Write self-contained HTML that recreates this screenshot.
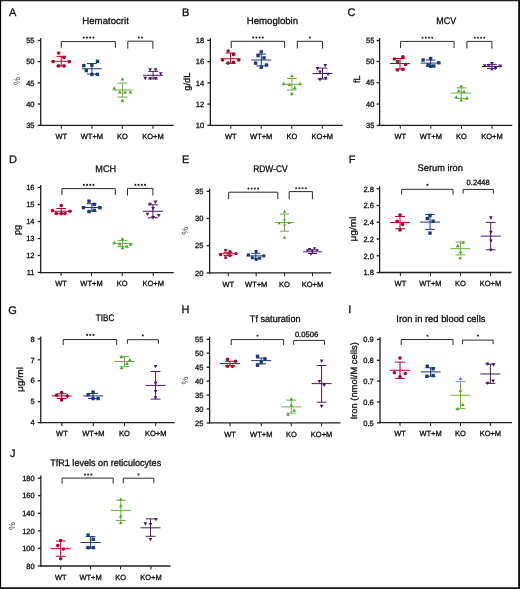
<!DOCTYPE html>
<html><head><meta charset="utf-8"><style>
html,body{margin:0;padding:0;background:#fff;}
body{width:520px;height:589px;overflow:hidden;}
svg{display:block;will-change:transform;}
text{text-rendering:geometricPrecision;stroke:#111;stroke-width:0.32px;paint-order:stroke;font-family:"Liberation Sans", sans-serif;}
</style></head><body>
<svg width="520" height="589" viewBox="0 0 520 589">
<rect x="0" y="0" width="520" height="589" fill="#fff"/>
<g><text x="8.9" y="16" font-size="11" text-anchor="start" fill="#111111">A</text><text x="105.6" y="24" font-size="9.6" text-anchor="middle" fill="#111111" textLength="46.6" lengthAdjust="spacingAndGlyphs">Hematocrit</text><line x1="40.7" y1="38" x2="40.7" y2="126.05" stroke="#1e1e1e" stroke-width="1.3"/><line x1="37.7" y1="40.5" x2="40.7" y2="40.5" stroke="#1e1e1e" stroke-width="1.3"/><text x="34.5" y="43.2" font-size="7.5" text-anchor="end" fill="#111111">55</text><line x1="37.7" y1="61.6" x2="40.7" y2="61.6" stroke="#1e1e1e" stroke-width="1.3"/><text x="34.5" y="64.3" font-size="7.5" text-anchor="end" fill="#111111">50</text><line x1="37.7" y1="82.8" x2="40.7" y2="82.8" stroke="#1e1e1e" stroke-width="1.3"/><text x="34.5" y="85.5" font-size="7.5" text-anchor="end" fill="#111111">45</text><line x1="37.7" y1="104" x2="40.7" y2="104" stroke="#1e1e1e" stroke-width="1.3"/><text x="34.5" y="106.7" font-size="7.5" text-anchor="end" fill="#111111">40</text><line x1="37.7" y1="125.3" x2="40.7" y2="125.3" stroke="#1e1e1e" stroke-width="1.3"/><text x="34.5" y="128" font-size="7.5" text-anchor="end" fill="#111111">35</text><line x1="40.05" y1="125.4" x2="173.7" y2="125.4" stroke="#1e1e1e" stroke-width="1.3"/><line x1="61.3" y1="125.4" x2="61.3" y2="128.8" stroke="#1e1e1e" stroke-width="1.04"/><text x="61.3" y="139.1" font-size="7.5" text-anchor="middle" fill="#111111">WT</text><line x1="91.9" y1="125.4" x2="91.9" y2="128.8" stroke="#1e1e1e" stroke-width="1.04"/><text x="91.9" y="139.1" font-size="7.5" text-anchor="middle" fill="#111111">WT+M</text><line x1="122.4" y1="125.4" x2="122.4" y2="128.8" stroke="#1e1e1e" stroke-width="1.04"/><text x="122.4" y="139.1" font-size="7.5" text-anchor="middle" fill="#111111">KO</text><line x1="153" y1="125.4" x2="153" y2="128.8" stroke="#1e1e1e" stroke-width="1.04"/><text x="153" y="139.1" font-size="7.5" text-anchor="middle" fill="#111111">KO+M</text><text transform="translate(19.6,81.1) rotate(-90)" font-size="9" text-anchor="middle" fill="#111111" style="stroke:none" fill-opacity="0.85">%</text><path d="M61.3 47.8V41.6H115.4V47.8" fill="none" stroke="#2a2a2a" stroke-width="1"/><circle cx="83.8" cy="37.6" r="1.05" fill="#2a2a2a"/><circle cx="87" cy="37.6" r="1.05" fill="#2a2a2a"/><circle cx="90.2" cy="37.6" r="1.05" fill="#2a2a2a"/><circle cx="93.4" cy="37.6" r="1.05" fill="#2a2a2a"/><path d="M127.8 48.6V41.2H152.9V48.6" fill="none" stroke="#2a2a2a" stroke-width="1"/><circle cx="138.8" cy="37.6" r="1.05" fill="#2a2a2a"/><circle cx="142" cy="37.6" r="1.05" fill="#2a2a2a"/><circle cx="58.7" cy="53" r="1.8" fill="#a8002c"/><circle cx="64" cy="57.6" r="1.8" fill="#a8002c"/><circle cx="53.2" cy="61.6" r="1.8" fill="#a8002c"/><circle cx="69.3" cy="61.8" r="1.8" fill="#a8002c"/><circle cx="58.5" cy="65.9" r="1.8" fill="#a8002c"/><circle cx="64" cy="65.9" r="1.8" fill="#a8002c"/><path d="M51.2 61.25H71.2M56.3 56.3H66.1M56.3 66.1H66.1M61.2 56.3V66.1" fill="none" stroke="#a8002c" stroke-width="1"/><rect x="95.8" y="59.6" width="3.4" height="3.4" fill="#1c3a78"/><rect x="82.1" y="63.9" width="3.4" height="3.4" fill="#1c3a78"/><rect x="90.2" y="63.3" width="3.4" height="3.4" fill="#1c3a78"/><rect x="84.6" y="68.9" width="3.4" height="3.4" fill="#1c3a78"/><rect x="90.2" y="72.7" width="3.4" height="3.4" fill="#1c3a78"/><rect x="95.6" y="72.7" width="3.4" height="3.4" fill="#1c3a78"/><path d="M81.9 68.75H101.9M87 63.5H96.8M87 74.1H96.8M91.9 63.5V74.1" fill="none" stroke="#1c3a78" stroke-width="1"/><polygon points="120.6,80.55 124.4,80.55 122.5,77.25" fill="#4f9d2a"/><polygon points="112.5,89.45 116.3,89.45 114.4,86.15" fill="#4f9d2a"/><polygon points="117.9,93.55 121.7,93.55 119.8,90.25" fill="#4f9d2a"/><polygon points="123.1,93.55 126.9,93.55 125,90.25" fill="#4f9d2a"/><polygon points="128.5,93.55 132.3,93.55 130.4,90.25" fill="#4f9d2a"/><polygon points="120.6,101.95 124.4,101.95 122.5,98.65" fill="#4f9d2a"/><path d="M112.5 90H132.5M117.6 83.1H127.4M117.6 97.1H127.4M122.5 83.1V97.1" fill="none" stroke="#68ae45" stroke-width="1"/><polygon points="148.2,68.25 152,68.25 150.1,71.55" fill="#4a1966"/><polygon points="153.7,68.25 157.5,68.25 155.6,71.55" fill="#4a1966"/><polygon points="158.8,72.15 162.6,72.15 160.7,75.45" fill="#4a1966"/><polygon points="143.3,76.85 147.1,76.85 145.2,80.15" fill="#4a1966"/><polygon points="148.4,77.05 152.2,77.05 150.3,80.35" fill="#4a1966"/><polygon points="153.7,77.05 157.5,77.05 155.6,80.35" fill="#4a1966"/><path d="M143.1 75.3H163.1M148.2 71.4H158M148.2 79H158M153.1 71.4V79" fill="none" stroke="#4a1966" stroke-width="1"/></g>
<g><text x="181.9" y="15.75" font-size="11" text-anchor="start" fill="#111111">B</text><text x="272.4" y="23.8" font-size="9.6" text-anchor="middle" fill="#111111" textLength="51.45" lengthAdjust="spacingAndGlyphs">Hemoglobin</text><line x1="210.35" y1="37.9" x2="210.35" y2="126.05" stroke="#1e1e1e" stroke-width="1.3"/><line x1="207.35" y1="40.4" x2="210.35" y2="40.4" stroke="#1e1e1e" stroke-width="1.3"/><text x="204.15" y="43.1" font-size="7.5" text-anchor="end" fill="#111111">18</text><line x1="207.35" y1="61.6" x2="210.35" y2="61.6" stroke="#1e1e1e" stroke-width="1.3"/><text x="204.15" y="64.3" font-size="7.5" text-anchor="end" fill="#111111">16</text><line x1="207.35" y1="82.85" x2="210.35" y2="82.85" stroke="#1e1e1e" stroke-width="1.3"/><text x="204.15" y="85.55" font-size="7.5" text-anchor="end" fill="#111111">14</text><line x1="207.35" y1="104.1" x2="210.35" y2="104.1" stroke="#1e1e1e" stroke-width="1.3"/><text x="204.15" y="106.8" font-size="7.5" text-anchor="end" fill="#111111">12</text><line x1="207.35" y1="125.3" x2="210.35" y2="125.3" stroke="#1e1e1e" stroke-width="1.3"/><text x="204.15" y="128" font-size="7.5" text-anchor="end" fill="#111111">10</text><line x1="209.7" y1="125.4" x2="342.8" y2="125.4" stroke="#1e1e1e" stroke-width="1.3"/><line x1="230.8" y1="125.4" x2="230.8" y2="128.8" stroke="#1e1e1e" stroke-width="1.04"/><text x="230.8" y="139.1" font-size="7.5" text-anchor="middle" fill="#111111">WT</text><line x1="261.2" y1="125.4" x2="261.2" y2="128.8" stroke="#1e1e1e" stroke-width="1.04"/><text x="261.2" y="139.1" font-size="7.5" text-anchor="middle" fill="#111111">WT+M</text><line x1="291.8" y1="125.4" x2="291.8" y2="128.8" stroke="#1e1e1e" stroke-width="1.04"/><text x="291.8" y="139.1" font-size="7.5" text-anchor="middle" fill="#111111">KO</text><line x1="322.3" y1="125.4" x2="322.3" y2="128.8" stroke="#1e1e1e" stroke-width="1.04"/><text x="322.3" y="139.1" font-size="7.5" text-anchor="middle" fill="#111111">KO+M</text><text transform="translate(189.5,81.6) rotate(-90)" font-size="9" text-anchor="middle" fill="#111111" textLength="18.3" lengthAdjust="spacingAndGlyphs">g/dL</text><path d="M231.25 48V41.3H284.6V48" fill="none" stroke="#2a2a2a" stroke-width="1"/><circle cx="253.2" cy="37.6" r="1.05" fill="#2a2a2a"/><circle cx="256.4" cy="37.6" r="1.05" fill="#2a2a2a"/><circle cx="259.6" cy="37.6" r="1.05" fill="#2a2a2a"/><circle cx="262.8" cy="37.6" r="1.05" fill="#2a2a2a"/><path d="M297.25 48.5V41.3H322.5V48.5" fill="none" stroke="#2a2a2a" stroke-width="1"/><circle cx="309.9" cy="37.6" r="1.05" fill="#2a2a2a"/><circle cx="228.1" cy="51" r="1.8" fill="#a8002c"/><circle cx="233.5" cy="54.4" r="1.8" fill="#a8002c"/><circle cx="222.5" cy="60" r="1.8" fill="#a8002c"/><circle cx="238.75" cy="60" r="1.8" fill="#a8002c"/><circle cx="228.1" cy="63.1" r="1.8" fill="#a8002c"/><circle cx="233.5" cy="62.25" r="1.8" fill="#a8002c"/><path d="M220.6 58.75H240.6M225.7 53.1H235.5M225.7 63.4H235.5M230.6 53.1V63.4" fill="none" stroke="#a8002c" stroke-width="1"/><rect x="259.55" y="50.2" width="3.4" height="3.4" fill="#1c3a78"/><rect x="256.4" y="53.9" width="3.4" height="3.4" fill="#1c3a78"/><rect x="262.3" y="56.2" width="3.4" height="3.4" fill="#1c3a78"/><rect x="253.9" y="61.4" width="3.4" height="3.4" fill="#1c3a78"/><rect x="264.8" y="63.3" width="3.4" height="3.4" fill="#1c3a78"/><rect x="259.55" y="65.55" width="3.4" height="3.4" fill="#1c3a78"/><path d="M251.25 60H271.25M256.35 54.1H266.15M256.35 65.9H266.15M261.25 54.1V65.9" fill="none" stroke="#1c3a78" stroke-width="1"/><polygon points="290,77.25 293.8,77.25 291.9,73.95" fill="#4f9d2a"/><polygon points="281.85,85.15 285.65,85.15 283.75,81.85" fill="#4f9d2a"/><polygon points="287.5,86.05 291.3,86.05 289.4,82.75" fill="#4f9d2a"/><polygon points="298.1,85.15 301.9,85.15 300,81.85" fill="#4f9d2a"/><polygon points="292.85,89.15 296.65,89.15 294.75,85.85" fill="#4f9d2a"/><polygon points="290,95.15 293.8,95.15 291.9,91.85" fill="#4f9d2a"/><path d="M281.9 84.3H301.9M287 78.5H296.8M287 90H296.8M291.9 78.5V90" fill="none" stroke="#68ae45" stroke-width="1"/><polygon points="323.35,63.95 327.15,63.95 325.25,67.25" fill="#4a1966"/><polygon points="315.6,67.1 319.4,67.1 317.5,70.4" fill="#4a1966"/><polygon points="318.1,70.6 321.9,70.6 320,73.9" fill="#4a1966"/><polygon points="326.2,72.75 330,72.75 328.1,76.05" fill="#4a1966"/><polygon points="318.1,78.1 321.9,78.1 320,81.4" fill="#4a1966"/><polygon points="323.7,76.85 327.5,76.85 325.6,80.15" fill="#4a1966"/><path d="M312.5 73.5H332.5M317.6 68.1H327.4M317.6 79H327.4M322.5 68.1V79" fill="none" stroke="#4a1966" stroke-width="1"/></g>
<g><text x="347.4" y="15.75" font-size="11" text-anchor="start" fill="#111111">C</text><text x="446.3" y="23.65" font-size="9.6" text-anchor="middle" fill="#111111" textLength="19.9" lengthAdjust="spacingAndGlyphs">MCV</text><line x1="379.6" y1="38" x2="379.6" y2="126.05" stroke="#1e1e1e" stroke-width="1.3"/><line x1="376.6" y1="40.5" x2="379.6" y2="40.5" stroke="#1e1e1e" stroke-width="1.3"/><text x="374.4" y="43.2" font-size="7.5" text-anchor="end" fill="#111111">55</text><line x1="376.6" y1="61.5" x2="379.6" y2="61.5" stroke="#1e1e1e" stroke-width="1.3"/><text x="374.4" y="64.2" font-size="7.5" text-anchor="end" fill="#111111">50</text><line x1="376.6" y1="82.7" x2="379.6" y2="82.7" stroke="#1e1e1e" stroke-width="1.3"/><text x="374.4" y="85.4" font-size="7.5" text-anchor="end" fill="#111111">45</text><line x1="376.6" y1="104.05" x2="379.6" y2="104.05" stroke="#1e1e1e" stroke-width="1.3"/><text x="374.4" y="106.75" font-size="7.5" text-anchor="end" fill="#111111">40</text><line x1="376.6" y1="125.4" x2="379.6" y2="125.4" stroke="#1e1e1e" stroke-width="1.3"/><text x="374.4" y="128.1" font-size="7.5" text-anchor="end" fill="#111111">35</text><line x1="378.95" y1="125.4" x2="512.3" y2="125.4" stroke="#1e1e1e" stroke-width="1.3"/><line x1="400.3" y1="125.4" x2="400.3" y2="128.8" stroke="#1e1e1e" stroke-width="1.04"/><text x="400.3" y="139.1" font-size="7.5" text-anchor="middle" fill="#111111">WT</text><line x1="430.8" y1="125.4" x2="430.8" y2="128.8" stroke="#1e1e1e" stroke-width="1.04"/><text x="430.8" y="139.1" font-size="7.5" text-anchor="middle" fill="#111111">WT+M</text><line x1="461.5" y1="125.4" x2="461.5" y2="128.8" stroke="#1e1e1e" stroke-width="1.04"/><text x="461.5" y="139.1" font-size="7.5" text-anchor="middle" fill="#111111">KO</text><line x1="492" y1="125.4" x2="492" y2="128.8" stroke="#1e1e1e" stroke-width="1.04"/><text x="492" y="139.1" font-size="7.5" text-anchor="middle" fill="#111111">KO+M</text><text transform="translate(359.8,79.3) rotate(-90)" font-size="9" text-anchor="middle" fill="#111111">fL</text><path d="M400.6 48.1V41.4H454.1V48.1" fill="none" stroke="#2a2a2a" stroke-width="1"/><circle cx="422.6" cy="37.7" r="1.05" fill="#2a2a2a"/><circle cx="425.8" cy="37.7" r="1.05" fill="#2a2a2a"/><circle cx="429" cy="37.7" r="1.05" fill="#2a2a2a"/><circle cx="432.2" cy="37.7" r="1.05" fill="#2a2a2a"/><path d="M466.9 48.5V41.4H491.9V48.5" fill="none" stroke="#2a2a2a" stroke-width="1"/><circle cx="474.7" cy="37.7" r="1.05" fill="#2a2a2a"/><circle cx="477.9" cy="37.7" r="1.05" fill="#2a2a2a"/><circle cx="481.1" cy="37.7" r="1.05" fill="#2a2a2a"/><circle cx="484.3" cy="37.7" r="1.05" fill="#2a2a2a"/><circle cx="402.9" cy="56.9" r="1.8" fill="#a8002c"/><circle cx="394.4" cy="59" r="1.8" fill="#a8002c"/><circle cx="397.5" cy="61.5" r="1.8" fill="#a8002c"/><circle cx="405.6" cy="64.4" r="1.8" fill="#a8002c"/><circle cx="397.5" cy="70" r="1.8" fill="#a8002c"/><circle cx="402.9" cy="69.4" r="1.8" fill="#a8002c"/><path d="M390 63.5H410M395.1 58.5H404.9M395.1 69H404.9M400 58.5V69" fill="none" stroke="#a8002c" stroke-width="1"/><rect x="428.9" y="56.8" width="3.4" height="3.4" fill="#1c3a78"/><rect x="421.4" y="58.3" width="3.4" height="3.4" fill="#1c3a78"/><rect x="437.05" y="61.05" width="3.4" height="3.4" fill="#1c3a78"/><rect x="426.4" y="63.3" width="3.4" height="3.4" fill="#1c3a78"/><rect x="428.9" y="64.55" width="3.4" height="3.4" fill="#1c3a78"/><rect x="432.05" y="64.3" width="3.4" height="3.4" fill="#1c3a78"/><path d="M420.6 63.1H440.6M425.7 60H435.5M425.7 66.25H435.5M430.6 60V66.25" fill="none" stroke="#1c3a78" stroke-width="1"/><polygon points="459.35,87.65 463.15,87.65 461.25,84.35" fill="#4f9d2a"/><polygon points="456.85,92.25 460.65,92.25 458.75,88.95" fill="#4f9d2a"/><polygon points="462.1,92.9 465.9,92.9 464,89.6" fill="#4f9d2a"/><polygon points="454.35,98.55 458.15,98.55 456.25,95.25" fill="#4f9d2a"/><polygon points="465,99.4 468.8,99.4 466.9,96.1" fill="#4f9d2a"/><polygon points="459.35,101.4 463.15,101.4 461.25,98.1" fill="#4f9d2a"/><path d="M451.25 93.1H471.25M456.35 87.9H466.15M456.35 98.5H466.15M461.25 87.9V98.5" fill="none" stroke="#68ae45" stroke-width="1"/><polygon points="482.85,64.25 486.65,64.25 484.75,67.55" fill="#4a1966"/><polygon points="486.6,64.25 490.4,64.25 488.5,67.55" fill="#4a1966"/><polygon points="490,62.1 493.8,62.1 491.9,65.4" fill="#4a1966"/><polygon points="498.1,64.6 501.9,64.6 500,67.9" fill="#4a1966"/><polygon points="490,67.95 493.8,67.95 491.9,71.25" fill="#4a1966"/><polygon points="493.7,66.85 497.5,66.85 495.6,70.15" fill="#4a1966"/><path d="M481.9 66.5H501.9M487 64.4H496.8M487 68.5H496.8M491.9 64.4V68.5" fill="none" stroke="#4a1966" stroke-width="1"/></g>
<g><text x="8.9" y="163" font-size="11" text-anchor="start" fill="#111111">D</text><text x="105.75" y="171.75" font-size="9.6" text-anchor="middle" fill="#111111" textLength="20.8" lengthAdjust="spacingAndGlyphs">MCH</text><line x1="40.7" y1="185" x2="40.7" y2="273.25" stroke="#1e1e1e" stroke-width="1.3"/><line x1="37.7" y1="187.5" x2="40.7" y2="187.5" stroke="#1e1e1e" stroke-width="1.3"/><text x="34.5" y="190.2" font-size="7.5" text-anchor="end" fill="#111111">16</text><line x1="37.7" y1="204.5" x2="40.7" y2="204.5" stroke="#1e1e1e" stroke-width="1.3"/><text x="34.5" y="207.2" font-size="7.5" text-anchor="end" fill="#111111">15</text><line x1="37.7" y1="221.5" x2="40.7" y2="221.5" stroke="#1e1e1e" stroke-width="1.3"/><text x="34.5" y="224.2" font-size="7.5" text-anchor="end" fill="#111111">14</text><line x1="37.7" y1="238.5" x2="40.7" y2="238.5" stroke="#1e1e1e" stroke-width="1.3"/><text x="34.5" y="241.2" font-size="7.5" text-anchor="end" fill="#111111">13</text><line x1="37.7" y1="255.5" x2="40.7" y2="255.5" stroke="#1e1e1e" stroke-width="1.3"/><text x="34.5" y="258.2" font-size="7.5" text-anchor="end" fill="#111111">12</text><line x1="37.7" y1="272.5" x2="40.7" y2="272.5" stroke="#1e1e1e" stroke-width="1.3"/><text x="34.5" y="275.2" font-size="7.5" text-anchor="end" fill="#111111">11</text><line x1="40.05" y1="272.6" x2="173.7" y2="272.6" stroke="#1e1e1e" stroke-width="1.3"/><line x1="61.1" y1="272.6" x2="61.1" y2="276" stroke="#1e1e1e" stroke-width="1.04"/><text x="61.1" y="286.3" font-size="7.5" text-anchor="middle" fill="#111111">WT</text><line x1="91.5" y1="272.6" x2="91.5" y2="276" stroke="#1e1e1e" stroke-width="1.04"/><text x="91.5" y="286.3" font-size="7.5" text-anchor="middle" fill="#111111">WT+M</text><line x1="122.2" y1="272.6" x2="122.2" y2="276" stroke="#1e1e1e" stroke-width="1.04"/><text x="122.2" y="286.3" font-size="7.5" text-anchor="middle" fill="#111111">KO</text><line x1="153.2" y1="272.6" x2="153.2" y2="276" stroke="#1e1e1e" stroke-width="1.04"/><text x="153.2" y="286.3" font-size="7.5" text-anchor="middle" fill="#111111">KO+M</text><text transform="translate(19.6,230) rotate(-90)" font-size="9" text-anchor="middle" fill="#111111">pg</text><path d="M61.9 195V188.6H115.3V195" fill="none" stroke="#2a2a2a" stroke-width="1"/><circle cx="83.8" cy="184.9" r="1.05" fill="#2a2a2a"/><circle cx="87" cy="184.9" r="1.05" fill="#2a2a2a"/><circle cx="90.2" cy="184.9" r="1.05" fill="#2a2a2a"/><circle cx="93.4" cy="184.9" r="1.05" fill="#2a2a2a"/><path d="M127.5 195.5V188.4H152.9V195.5" fill="none" stroke="#2a2a2a" stroke-width="1"/><circle cx="135.4" cy="184.9" r="1.05" fill="#2a2a2a"/><circle cx="138.6" cy="184.9" r="1.05" fill="#2a2a2a"/><circle cx="141.8" cy="184.9" r="1.05" fill="#2a2a2a"/><circle cx="145" cy="184.9" r="1.05" fill="#2a2a2a"/><circle cx="61.25" cy="205.6" r="1.8" fill="#a8002c"/><circle cx="52.5" cy="210.6" r="1.8" fill="#a8002c"/><circle cx="70" cy="211.25" r="1.8" fill="#a8002c"/><circle cx="56.25" cy="213.5" r="1.8" fill="#a8002c"/><circle cx="61.25" cy="213.5" r="1.8" fill="#a8002c"/><circle cx="65" cy="213.5" r="1.8" fill="#a8002c"/><path d="M51.25 211.25H71.25M56.35 208.5H66.15M56.35 213.75H66.15M61.25 208.5V213.75" fill="none" stroke="#a8002c" stroke-width="1"/><rect x="87.3" y="199.5" width="3.4" height="3.4" fill="#1c3a78"/><rect x="92.5" y="202.7" width="3.4" height="3.4" fill="#1c3a78"/><rect x="81.7" y="205.9" width="3.4" height="3.4" fill="#1c3a78"/><rect x="98.2" y="205.9" width="3.4" height="3.4" fill="#1c3a78"/><rect x="87.4" y="209.8" width="3.4" height="3.4" fill="#1c3a78"/><rect x="92.5" y="208.6" width="3.4" height="3.4" fill="#1c3a78"/><path d="M81.8 207.5H101.8M86.9 203.75H96.7M86.9 211.2H96.7M91.8 203.75V211.2" fill="none" stroke="#1c3a78" stroke-width="1"/><polygon points="120.6,240.4 124.4,240.4 122.5,237.1" fill="#4f9d2a"/><polygon points="112.5,244.15 116.3,244.15 114.4,240.85" fill="#4f9d2a"/><polygon points="117.85,245.4 121.65,245.4 119.75,242.1" fill="#4f9d2a"/><polygon points="128.7,245.65 132.5,245.65 130.6,242.35" fill="#4f9d2a"/><polygon points="125,247.65 128.8,247.65 126.9,244.35" fill="#4f9d2a"/><polygon points="120.6,249.15 124.4,249.15 122.5,245.85" fill="#4f9d2a"/><path d="M112.5 243.4H132.5M117.6 240.4H127.4M117.6 246.6H127.4M122.5 240.4V246.6" fill="none" stroke="#68ae45" stroke-width="1"/><polygon points="153.7,200.6 157.5,200.6 155.6,203.9" fill="#4a1966"/><polygon points="148.1,202.75 151.9,202.75 150,206.05" fill="#4a1966"/><polygon points="151.2,207.1 155,207.1 153.1,210.4" fill="#4a1966"/><polygon points="145.6,212.75 149.4,212.75 147.5,216.05" fill="#4a1966"/><polygon points="156.85,213.95 160.65,213.95 158.75,217.25" fill="#4a1966"/><polygon points="151.2,216.1 155,216.1 153.1,219.4" fill="#4a1966"/><path d="M142.9 211.25H162.9M148 204.75H157.8M148 217.75H157.8M152.9 204.75V217.75" fill="none" stroke="#4a1966" stroke-width="1"/></g>
<g><text x="181.9" y="163" font-size="11" text-anchor="start" fill="#111111">E</text><text x="270.4" y="171.75" font-size="9.6" text-anchor="middle" fill="#111111" textLength="34.4" lengthAdjust="spacingAndGlyphs">RDW-CV</text><line x1="209.65" y1="188.85" x2="209.65" y2="273.45" stroke="#1e1e1e" stroke-width="1.3"/><line x1="206.65" y1="191.35" x2="209.65" y2="191.35" stroke="#1e1e1e" stroke-width="1.3"/><text x="203.45" y="194.05" font-size="7.5" text-anchor="end" fill="#111111">35</text><line x1="206.65" y1="218.5" x2="209.65" y2="218.5" stroke="#1e1e1e" stroke-width="1.3"/><text x="203.45" y="221.2" font-size="7.5" text-anchor="end" fill="#111111">30</text><line x1="206.65" y1="245.7" x2="209.65" y2="245.7" stroke="#1e1e1e" stroke-width="1.3"/><text x="203.45" y="248.4" font-size="7.5" text-anchor="end" fill="#111111">25</text><line x1="206.65" y1="272.9" x2="209.65" y2="272.9" stroke="#1e1e1e" stroke-width="1.3"/><text x="203.45" y="275.6" font-size="7.5" text-anchor="end" fill="#111111">20</text><line x1="209" y1="272.8" x2="331.2" y2="272.8" stroke="#1e1e1e" stroke-width="1.3"/><line x1="228.3" y1="272.8" x2="228.3" y2="276.2" stroke="#1e1e1e" stroke-width="1.04"/><text x="228.3" y="286.5" font-size="7.5" text-anchor="middle" fill="#111111">WT</text><line x1="256.2" y1="272.8" x2="256.2" y2="276.2" stroke="#1e1e1e" stroke-width="1.04"/><text x="256.2" y="286.5" font-size="7.5" text-anchor="middle" fill="#111111">WT+M</text><line x1="284.5" y1="272.8" x2="284.5" y2="276.2" stroke="#1e1e1e" stroke-width="1.04"/><text x="284.5" y="286.5" font-size="7.5" text-anchor="middle" fill="#111111">KO</text><line x1="312.5" y1="272.8" x2="312.5" y2="276.2" stroke="#1e1e1e" stroke-width="1.04"/><text x="312.5" y="286.5" font-size="7.5" text-anchor="middle" fill="#111111">KO+M</text><text transform="translate(187.7,230.7) rotate(-90)" font-size="9" text-anchor="middle" fill="#111111" style="stroke:none" fill-opacity="0.85">%</text><path d="M228.7 199V192.2H277.8V199" fill="none" stroke="#2a2a2a" stroke-width="1"/><circle cx="248.5" cy="188.6" r="1.05" fill="#2a2a2a"/><circle cx="251.7" cy="188.6" r="1.05" fill="#2a2a2a"/><circle cx="254.9" cy="188.6" r="1.05" fill="#2a2a2a"/><circle cx="258.1" cy="188.6" r="1.05" fill="#2a2a2a"/><path d="M289.2 199.3V191.6H312.4V199.3" fill="none" stroke="#2a2a2a" stroke-width="1"/><circle cx="296.2" cy="188.3" r="1.05" fill="#2a2a2a"/><circle cx="299.4" cy="188.3" r="1.05" fill="#2a2a2a"/><circle cx="302.6" cy="188.3" r="1.05" fill="#2a2a2a"/><circle cx="305.8" cy="188.3" r="1.05" fill="#2a2a2a"/><circle cx="225.6" cy="250" r="1.58" fill="#a8002c"/><circle cx="230" cy="251.5" r="1.58" fill="#a8002c"/><circle cx="220.6" cy="254.75" r="1.58" fill="#a8002c"/><circle cx="236" cy="253.5" r="1.58" fill="#a8002c"/><circle cx="225.6" cy="257.5" r="1.58" fill="#a8002c"/><circle cx="230" cy="255.6" r="1.58" fill="#a8002c"/><path d="M218.7 253.75H237.5M223.6 252.25H232.6M223.6 255.6H232.6M228.1 252.25V255.6" fill="none" stroke="#a8002c" stroke-width="1"/><rect x="254.6" y="249.9" width="2.99" height="2.99" fill="#1c3a78"/><rect x="246.9" y="253.3" width="2.99" height="2.99" fill="#1c3a78"/><rect x="262.3" y="254.4" width="2.99" height="2.99" fill="#1c3a78"/><rect x="250.8" y="256.3" width="2.99" height="2.99" fill="#1c3a78"/><rect x="254.7" y="257.9" width="2.99" height="2.99" fill="#1c3a78"/><rect x="258.2" y="256.7" width="2.99" height="2.99" fill="#1c3a78"/><path d="M246.4 255.9H265.2M251.3 253.3H260.3M251.3 258.3H260.3M255.8 253.3V258.3" fill="none" stroke="#1c3a78" stroke-width="1"/><polygon points="282.83,212.75 286.17,212.75 284.5,209.85" fill="#4f9d2a"/><polygon points="282.83,220.45 286.17,220.45 284.5,217.55" fill="#4f9d2a"/><polygon points="277.53,224.35 280.87,224.35 279.2,221.45" fill="#4f9d2a"/><polygon points="287.43,223.95 290.77,223.95 289.1,221.05" fill="#4f9d2a"/><polygon points="282.83,225.85 286.17,225.85 284.5,222.95" fill="#4f9d2a"/><polygon points="282.83,238.75 286.17,238.75 284.5,235.85" fill="#4f9d2a"/><path d="M275.1 222.5H293.9M280 214H289M280 231.2H289M284.5 214V231.2" fill="none" stroke="#68ae45" stroke-width="1"/><polygon points="305.73,249.35 309.07,249.35 307.4,252.25" fill="#4a1966"/><polygon points="307.83,247.95 311.17,247.95 309.5,250.85" fill="#4a1966"/><polygon points="312.83,247.3 316.17,247.3 314.5,250.2" fill="#4a1966"/><polygon points="310.53,249.65 313.87,249.65 312.2,252.55" fill="#4a1966"/><polygon points="315.53,249.35 318.87,249.35 317.2,252.25" fill="#4a1966"/><polygon points="309.13,253.05 312.47,253.05 310.8,255.95" fill="#4a1966"/><path d="M303.1 251.8H321.9M308 249.8H317M308 253.5H317M312.5 249.8V253.5" fill="none" stroke="#4a1966" stroke-width="1"/></g>
<g><text x="348.65" y="162.5" font-size="11" text-anchor="start" fill="#111111">F</text><text x="440.25" y="170.5" font-size="9.6" text-anchor="middle" fill="#111111" textLength="45.4" lengthAdjust="spacingAndGlyphs">Serum iron</text><line x1="379.6" y1="186.3" x2="379.6" y2="273.15" stroke="#1e1e1e" stroke-width="1.3"/><line x1="376.6" y1="188.8" x2="379.6" y2="188.8" stroke="#1e1e1e" stroke-width="1.3"/><text x="373.9" y="191.5" font-size="7.5" text-anchor="end" fill="#111111">2.8</text><line x1="376.6" y1="205.5" x2="379.6" y2="205.5" stroke="#1e1e1e" stroke-width="1.3"/><text x="373.9" y="208.2" font-size="7.5" text-anchor="end" fill="#111111">2.6</text><line x1="376.6" y1="222.3" x2="379.6" y2="222.3" stroke="#1e1e1e" stroke-width="1.3"/><text x="373.9" y="225" font-size="7.5" text-anchor="end" fill="#111111">2.4</text><line x1="376.6" y1="239" x2="379.6" y2="239" stroke="#1e1e1e" stroke-width="1.3"/><text x="373.9" y="241.7" font-size="7.5" text-anchor="end" fill="#111111">2.2</text><line x1="376.6" y1="255.8" x2="379.6" y2="255.8" stroke="#1e1e1e" stroke-width="1.3"/><text x="373.9" y="258.5" font-size="7.5" text-anchor="end" fill="#111111">2.0</text><line x1="376.6" y1="272.5" x2="379.6" y2="272.5" stroke="#1e1e1e" stroke-width="1.3"/><text x="373.9" y="275.2" font-size="7.5" text-anchor="end" fill="#111111">1.8</text><line x1="378.95" y1="272.5" x2="511.5" y2="272.5" stroke="#1e1e1e" stroke-width="1.3"/><line x1="400.4" y1="272.5" x2="400.4" y2="275.9" stroke="#1e1e1e" stroke-width="1.04"/><text x="400.4" y="286.2" font-size="7.5" text-anchor="middle" fill="#111111">WT</text><line x1="430.4" y1="272.5" x2="430.4" y2="275.9" stroke="#1e1e1e" stroke-width="1.04"/><text x="430.4" y="286.2" font-size="7.5" text-anchor="middle" fill="#111111">WT+M</text><line x1="460.5" y1="272.5" x2="460.5" y2="275.9" stroke="#1e1e1e" stroke-width="1.04"/><text x="460.5" y="286.2" font-size="7.5" text-anchor="middle" fill="#111111">KO</text><line x1="490.5" y1="272.5" x2="490.5" y2="275.9" stroke="#1e1e1e" stroke-width="1.04"/><text x="490.5" y="286.2" font-size="7.5" text-anchor="middle" fill="#111111">KO+M</text><text transform="translate(356.1,229) rotate(-90)" font-size="9" text-anchor="middle" fill="#111111" textLength="25" lengthAdjust="spacingAndGlyphs">μg/ml</text><path d="M401.7 194.7V189.3H453V194.7" fill="none" stroke="#2a2a2a" stroke-width="1"/><circle cx="427.5" cy="184.9" r="1.05" fill="#2a2a2a"/><path d="M463.1 193.8V189.4H493.4V193.8" fill="none" stroke="#2a2a2a" stroke-width="1"/><text x="478.2" y="184.5" font-size="7.6" text-anchor="middle" fill="#111111">0.2448</text><circle cx="400" cy="215" r="1.8" fill="#a8002c"/><circle cx="397.25" cy="221.25" r="1.8" fill="#a8002c"/><circle cx="402.5" cy="224.4" r="1.8" fill="#a8002c"/><circle cx="400" cy="230" r="1.8" fill="#a8002c"/><path d="M390 222.5H410M395.1 216.5H404.9M395.1 228.75H404.9M400 216.5V228.75" fill="none" stroke="#a8002c" stroke-width="1"/><rect x="428.3" y="213.7" width="3.4" height="3.4" fill="#1c3a78"/><rect x="425.55" y="216.8" width="3.4" height="3.4" fill="#1c3a78"/><rect x="431.4" y="219.55" width="3.4" height="3.4" fill="#1c3a78"/><rect x="428.3" y="231.4" width="3.4" height="3.4" fill="#1c3a78"/><path d="M420 222.1H440M425.1 214.6H434.9M425.1 229.4H434.9M430 214.6V229.4" fill="none" stroke="#1c3a78" stroke-width="1"/><polygon points="461.1,243.85 464.9,243.85 463,240.55" fill="#4f9d2a"/><polygon points="455.8,247.15 459.6,247.15 457.7,243.85" fill="#4f9d2a"/><polygon points="458.7,253.25 462.5,253.25 460.6,249.95" fill="#4f9d2a"/><polygon points="458.3,259.25 462.1,259.25 460.2,255.95" fill="#4f9d2a"/><path d="M450.4 248.7H470.4M455.5 241.9H465.3M455.5 254.9H465.3M460.4 241.9V254.9" fill="none" stroke="#68ae45" stroke-width="1"/><polygon points="489,216.35 492.8,216.35 490.9,219.65" fill="#4a1966"/><polygon points="489,230.85 492.8,230.85 490.9,234.15" fill="#4a1966"/><polygon points="489,239.55 492.8,239.55 490.9,242.85" fill="#4a1966"/><polygon points="489,248.75 492.8,248.75 490.9,252.05" fill="#4a1966"/><path d="M480.7 236.1H500.7M485.8 222.4H495.6M485.8 249.8H495.6M490.7 222.4V249.8" fill="none" stroke="#4a1966" stroke-width="1"/></g>
<g><text x="8.15" y="313.75" font-size="11" text-anchor="start" fill="#111111">G</text><text x="105" y="321.25" font-size="9.6" text-anchor="middle" fill="#111111" textLength="18.6" lengthAdjust="spacingAndGlyphs">TIBC</text><line x1="40.75" y1="336.4" x2="40.75" y2="423.35" stroke="#1e1e1e" stroke-width="1.3"/><line x1="37.75" y1="338.9" x2="40.75" y2="338.9" stroke="#1e1e1e" stroke-width="1.3"/><text x="34.55" y="341.6" font-size="7.5" text-anchor="end" fill="#111111">8</text><line x1="37.75" y1="359.8" x2="40.75" y2="359.8" stroke="#1e1e1e" stroke-width="1.3"/><text x="34.55" y="362.5" font-size="7.5" text-anchor="end" fill="#111111">7</text><line x1="37.75" y1="380.7" x2="40.75" y2="380.7" stroke="#1e1e1e" stroke-width="1.3"/><text x="34.55" y="383.4" font-size="7.5" text-anchor="end" fill="#111111">6</text><line x1="37.75" y1="401.7" x2="40.75" y2="401.7" stroke="#1e1e1e" stroke-width="1.3"/><text x="34.55" y="404.4" font-size="7.5" text-anchor="end" fill="#111111">5</text><line x1="37.75" y1="422.6" x2="40.75" y2="422.6" stroke="#1e1e1e" stroke-width="1.3"/><text x="34.55" y="425.3" font-size="7.5" text-anchor="end" fill="#111111">4</text><line x1="40.1" y1="422.7" x2="174.6" y2="422.7" stroke="#1e1e1e" stroke-width="1.3"/><line x1="61.9" y1="422.7" x2="61.9" y2="426.1" stroke="#1e1e1e" stroke-width="1.04"/><text x="61.9" y="436.4" font-size="7.5" text-anchor="middle" fill="#111111">WT</text><line x1="93.4" y1="422.7" x2="93.4" y2="426.1" stroke="#1e1e1e" stroke-width="1.04"/><text x="93.4" y="436.4" font-size="7.5" text-anchor="middle" fill="#111111">WT+M</text><line x1="124.5" y1="422.7" x2="124.5" y2="426.1" stroke="#1e1e1e" stroke-width="1.04"/><text x="124.5" y="436.4" font-size="7.5" text-anchor="middle" fill="#111111">KO</text><line x1="155.7" y1="422.7" x2="155.7" y2="426.1" stroke="#1e1e1e" stroke-width="1.04"/><text x="155.7" y="436.4" font-size="7.5" text-anchor="middle" fill="#111111">KO+M</text><text transform="translate(23.3,379.5) rotate(-90)" font-size="9" text-anchor="middle" fill="#111111" textLength="25" lengthAdjust="spacingAndGlyphs">μg/ml</text><path d="M63.2 345V339.5H116.7V345" fill="none" stroke="#2a2a2a" stroke-width="1"/><circle cx="87.1" cy="334.9" r="1.05" fill="#2a2a2a"/><circle cx="90.3" cy="334.9" r="1.05" fill="#2a2a2a"/><circle cx="93.5" cy="334.9" r="1.05" fill="#2a2a2a"/><path d="M127.4 343.8V339.7H158.4V343.8" fill="none" stroke="#2a2a2a" stroke-width="1"/><circle cx="142.8" cy="335.4" r="1.05" fill="#2a2a2a"/><circle cx="61.6" cy="392.5" r="1.8" fill="#a8002c"/><circle cx="56.5" cy="395.25" r="1.8" fill="#a8002c"/><circle cx="67.25" cy="396" r="1.8" fill="#a8002c"/><circle cx="61.6" cy="400" r="1.8" fill="#a8002c"/><path d="M51.6 395.9H71.6M56.7 393.75H66.5M56.7 398.5H66.5M61.6 393.75V398.5" fill="none" stroke="#a8002c" stroke-width="1"/><rect x="91.4" y="390.4" width="3.4" height="3.4" fill="#1c3a78"/><rect x="86.4" y="393.05" width="3.4" height="3.4" fill="#1c3a78"/><rect x="91.4" y="396.8" width="3.4" height="3.4" fill="#1c3a78"/><rect x="96.4" y="396.8" width="3.4" height="3.4" fill="#1c3a78"/><path d="M83.1 395.9H103.1M88.2 393.4H98M88.2 398.5H98M93.1 393.4V398.5" fill="none" stroke="#1c3a78" stroke-width="1"/><polygon points="119.7,358.15 123.5,358.15 121.6,354.85" fill="#4f9d2a"/><polygon points="127.9,361.35 131.7,361.35 129.8,358.05" fill="#4f9d2a"/><polygon points="125.1,364.95 128.9,364.95 127,361.65" fill="#4f9d2a"/><polygon points="119.7,369.25 123.5,369.25 121.6,365.95" fill="#4f9d2a"/><path d="M114.5 361.5H134.5M119.6 356.5H129.4M119.6 366.6H129.4M124.5 356.5V366.6" fill="none" stroke="#68ae45" stroke-width="1"/><polygon points="153.7,364.95 157.5,364.95 155.6,368.25" fill="#4a1966"/><polygon points="153.7,381.85 157.5,381.85 155.6,385.15" fill="#4a1966"/><polygon points="153.7,390.05 157.5,390.05 155.6,393.35" fill="#4a1966"/><polygon points="153.7,396.35 157.5,396.35 155.6,399.65" fill="#4a1966"/><path d="M145.6 385.4H165.6M150.7 371.5H160.5M150.7 399.1H160.5M155.6 371.5V399.1" fill="none" stroke="#4a1966" stroke-width="1"/></g>
<g><text x="181.4" y="313" font-size="11" text-anchor="start" fill="#111111">H</text><text x="275.2" y="321.75" font-size="9.6" text-anchor="middle" fill="#111111" textLength="50.7" lengthAdjust="spacingAndGlyphs">Tf saturation</text><line x1="209.6" y1="336.85" x2="209.6" y2="423.55" stroke="#1e1e1e" stroke-width="1.3"/><line x1="206.6" y1="339.35" x2="209.6" y2="339.35" stroke="#1e1e1e" stroke-width="1.3"/><text x="203.4" y="342.05" font-size="7.5" text-anchor="end" fill="#111111">55</text><line x1="206.6" y1="353.2" x2="209.6" y2="353.2" stroke="#1e1e1e" stroke-width="1.3"/><text x="203.4" y="355.9" font-size="7.5" text-anchor="end" fill="#111111">50</text><line x1="206.6" y1="367.2" x2="209.6" y2="367.2" stroke="#1e1e1e" stroke-width="1.3"/><text x="203.4" y="369.9" font-size="7.5" text-anchor="end" fill="#111111">45</text><line x1="206.6" y1="381.1" x2="209.6" y2="381.1" stroke="#1e1e1e" stroke-width="1.3"/><text x="203.4" y="383.8" font-size="7.5" text-anchor="end" fill="#111111">40</text><line x1="206.6" y1="395.1" x2="209.6" y2="395.1" stroke="#1e1e1e" stroke-width="1.3"/><text x="203.4" y="397.8" font-size="7.5" text-anchor="end" fill="#111111">35</text><line x1="206.6" y1="409" x2="209.6" y2="409" stroke="#1e1e1e" stroke-width="1.3"/><text x="203.4" y="411.7" font-size="7.5" text-anchor="end" fill="#111111">30</text><line x1="206.6" y1="423" x2="209.6" y2="423" stroke="#1e1e1e" stroke-width="1.3"/><text x="203.4" y="425.7" font-size="7.5" text-anchor="end" fill="#111111">25</text><line x1="208.95" y1="422.9" x2="340.4" y2="422.9" stroke="#1e1e1e" stroke-width="1.3"/><line x1="230" y1="422.9" x2="230" y2="426.3" stroke="#1e1e1e" stroke-width="1.04"/><text x="230" y="436.6" font-size="7.5" text-anchor="middle" fill="#111111">WT</text><line x1="261.25" y1="422.9" x2="261.25" y2="426.3" stroke="#1e1e1e" stroke-width="1.04"/><text x="261.25" y="436.6" font-size="7.5" text-anchor="middle" fill="#111111">WT+M</text><line x1="291.3" y1="422.9" x2="291.3" y2="426.3" stroke="#1e1e1e" stroke-width="1.04"/><text x="291.3" y="436.6" font-size="7.5" text-anchor="middle" fill="#111111">KO</text><line x1="321.6" y1="422.9" x2="321.6" y2="426.3" stroke="#1e1e1e" stroke-width="1.04"/><text x="321.6" y="436.6" font-size="7.5" text-anchor="middle" fill="#111111">KO+M</text><text transform="translate(188.1,380.5) rotate(-90)" font-size="9" text-anchor="middle" fill="#111111" style="stroke:none" fill-opacity="0.85">%</text><path d="M231.25 345V339.6H283.6V345" fill="none" stroke="#2a2a2a" stroke-width="1"/><circle cx="257.5" cy="335.8" r="1.05" fill="#2a2a2a"/><path d="M293.7 344.8V340.4H324.4V344.8" fill="none" stroke="#2a2a2a" stroke-width="1"/><text x="306.5" y="337.2" font-size="7.6" text-anchor="middle" fill="#111111">0.0506</text><circle cx="227.5" cy="359.4" r="1.8" fill="#a8002c"/><circle cx="235.6" cy="361.25" r="1.8" fill="#a8002c"/><circle cx="227.5" cy="366.25" r="1.8" fill="#a8002c"/><circle cx="232.5" cy="366.25" r="1.8" fill="#a8002c"/><path d="M220 363.5H240M225.1 361.25H234.9M225.1 365.6H234.9M230 361.25V365.6" fill="none" stroke="#a8002c" stroke-width="1"/><rect x="255.8" y="354.55" width="3.4" height="3.4" fill="#1c3a78"/><rect x="263.3" y="357.3" width="3.4" height="3.4" fill="#1c3a78"/><rect x="259.55" y="360.8" width="3.4" height="3.4" fill="#1c3a78"/><rect x="255.8" y="363.55" width="3.4" height="3.4" fill="#1c3a78"/><path d="M251.25 360.6H271.25M256.35 358.1H266.15M256.35 363.75H266.15M261.25 358.1V363.75" fill="none" stroke="#1c3a78" stroke-width="1"/><polygon points="289.4,400.55 293.2,400.55 291.3,397.25" fill="#4f9d2a"/><polygon points="289.4,406.75 293.2,406.75 291.3,403.45" fill="#4f9d2a"/><polygon points="292.3,411.85 296.1,411.85 294.2,408.55" fill="#4f9d2a"/><polygon points="286.1,415.85 289.9,415.85 288,412.55" fill="#4f9d2a"/><path d="M281.3 406.9H301.3M286.4 400.1H296.2M286.4 413.1H296.2M291.3 400.1V413.1" fill="none" stroke="#68ae45" stroke-width="1"/><polygon points="319.7,359.55 323.5,359.55 321.6,362.85" fill="#4a1966"/><polygon points="317.4,379.95 321.2,379.95 319.3,383.25" fill="#4a1966"/><polygon points="322.3,383.75 326.1,383.75 324.2,387.05" fill="#4a1966"/><polygon points="319.7,404.85 323.5,404.85 321.6,408.15" fill="#4a1966"/><path d="M311.6 383.6H331.6M316.7 365.5H326.5M316.7 402.2H326.5M321.6 365.5V402.2" fill="none" stroke="#4a1966" stroke-width="1"/></g>
<g><text x="348.15" y="313" font-size="11" text-anchor="start" fill="#111111">I</text><text x="440.9" y="321.75" font-size="9.6" text-anchor="middle" fill="#111111" textLength="89.1" lengthAdjust="spacingAndGlyphs">Iron in red blood cells</text><line x1="380" y1="336.9" x2="380" y2="423.25" stroke="#1e1e1e" stroke-width="1.3"/><line x1="377" y1="339.4" x2="380" y2="339.4" stroke="#1e1e1e" stroke-width="1.3"/><text x="373.8" y="342.1" font-size="7.5" text-anchor="end" fill="#111111">0.9</text><line x1="377" y1="360.3" x2="380" y2="360.3" stroke="#1e1e1e" stroke-width="1.3"/><text x="373.8" y="363" font-size="7.5" text-anchor="end" fill="#111111">0.8</text><line x1="377" y1="381.1" x2="380" y2="381.1" stroke="#1e1e1e" stroke-width="1.3"/><text x="373.8" y="383.8" font-size="7.5" text-anchor="end" fill="#111111">0.7</text><line x1="377" y1="402" x2="380" y2="402" stroke="#1e1e1e" stroke-width="1.3"/><text x="373.8" y="404.7" font-size="7.5" text-anchor="end" fill="#111111">0.6</text><line x1="377" y1="422.8" x2="380" y2="422.8" stroke="#1e1e1e" stroke-width="1.3"/><text x="373.8" y="425.5" font-size="7.5" text-anchor="end" fill="#111111">0.5</text><line x1="379.35" y1="422.6" x2="512" y2="422.6" stroke="#1e1e1e" stroke-width="1.3"/><line x1="400" y1="422.6" x2="400" y2="426" stroke="#1e1e1e" stroke-width="1.04"/><text x="400" y="436.3" font-size="7.5" text-anchor="middle" fill="#111111">WT</text><line x1="430.6" y1="422.6" x2="430.6" y2="426" stroke="#1e1e1e" stroke-width="1.04"/><text x="430.6" y="436.3" font-size="7.5" text-anchor="middle" fill="#111111">WT+M</text><line x1="460.5" y1="422.6" x2="460.5" y2="426" stroke="#1e1e1e" stroke-width="1.04"/><text x="460.5" y="436.3" font-size="7.5" text-anchor="middle" fill="#111111">KO</text><line x1="490.4" y1="422.6" x2="490.4" y2="426" stroke="#1e1e1e" stroke-width="1.04"/><text x="490.4" y="436.3" font-size="7.5" text-anchor="middle" fill="#111111">KO+M</text><text transform="translate(356.9,380.9) rotate(-90)" font-size="9" text-anchor="middle" fill="#111111" textLength="77.4" lengthAdjust="spacingAndGlyphs">Iron (nmol/M cells)</text><path d="M401.25 345V339.5H453V345" fill="none" stroke="#2a2a2a" stroke-width="1"/><circle cx="427.5" cy="335.8" r="1.05" fill="#2a2a2a"/><path d="M462.5 344.2V340.1H493.1V344.2" fill="none" stroke="#2a2a2a" stroke-width="1"/><circle cx="478" cy="335.6" r="1.05" fill="#2a2a2a"/><circle cx="400" cy="358.1" r="1.8" fill="#a8002c"/><circle cx="394.4" cy="372.75" r="1.8" fill="#a8002c"/><circle cx="405.25" cy="373.5" r="1.8" fill="#a8002c"/><circle cx="400" cy="376.9" r="1.8" fill="#a8002c"/><path d="M390 370.25H410M395.1 362.1H404.9M395.1 378.4H404.9M400 362.1V378.4" fill="none" stroke="#a8002c" stroke-width="1"/><rect x="425.55" y="364.55" width="3.4" height="3.4" fill="#1c3a78"/><rect x="431.4" y="367.05" width="3.4" height="3.4" fill="#1c3a78"/><rect x="425.2" y="374.55" width="3.4" height="3.4" fill="#1c3a78"/><rect x="431.4" y="373.9" width="3.4" height="3.4" fill="#1c3a78"/><path d="M420.6 371.9H440.6M425.7 367.75H435.5M425.7 376.25H435.5M430.6 367.75V376.25" fill="none" stroke="#1c3a78" stroke-width="1"/><polygon points="458.6,380.05 462.4,380.05 460.5,376.75" fill="#4f9d2a"/><polygon points="458.6,391.65 462.4,391.65 460.5,388.35" fill="#4f9d2a"/><polygon points="460.9,405.95 464.7,405.95 462.8,402.65" fill="#4f9d2a"/><polygon points="455.6,410.35 459.4,410.35 457.5,407.05" fill="#4f9d2a"/><path d="M450.5 395.3H470.5M455.6 381.6H465.4M455.6 408.7H465.4M460.5 381.6V408.7" fill="none" stroke="#68ae45" stroke-width="1"/><polygon points="485.8,362.55 489.6,362.55 487.7,365.85" fill="#4a1966"/><polygon points="491.5,363.35 495.3,363.35 493.4,366.65" fill="#4a1966"/><polygon points="491.2,379.45 495,379.45 493.1,382.75" fill="#4a1966"/><polygon points="485.8,381.75 489.6,381.75 487.7,385.05" fill="#4a1966"/><path d="M480.4 374H500.4M485.5 364.2H495.3M485.5 383.4H495.3M490.4 364.2V383.4" fill="none" stroke="#4a1966" stroke-width="1"/></g>
<g><text x="9.9" y="457" font-size="11" text-anchor="start" fill="#111111">J</text><text x="105.7" y="466.25" font-size="9.6" text-anchor="middle" fill="#111111" textLength="111.05" lengthAdjust="spacingAndGlyphs">TfR1 levels on reticulocytes</text><line x1="40.85" y1="475.6" x2="40.85" y2="566.65" stroke="#1e1e1e" stroke-width="1.3"/><line x1="37.85" y1="478.1" x2="40.85" y2="478.1" stroke="#1e1e1e" stroke-width="1.3"/><text x="34.65" y="480.8" font-size="7.5" text-anchor="end" fill="#111111">180</text><line x1="37.85" y1="495.7" x2="40.85" y2="495.7" stroke="#1e1e1e" stroke-width="1.3"/><text x="34.65" y="498.4" font-size="7.5" text-anchor="end" fill="#111111">160</text><line x1="37.85" y1="513.3" x2="40.85" y2="513.3" stroke="#1e1e1e" stroke-width="1.3"/><text x="34.65" y="516" font-size="7.5" text-anchor="end" fill="#111111">140</text><line x1="37.85" y1="530.8" x2="40.85" y2="530.8" stroke="#1e1e1e" stroke-width="1.3"/><text x="34.65" y="533.5" font-size="7.5" text-anchor="end" fill="#111111">120</text><line x1="37.85" y1="548.4" x2="40.85" y2="548.4" stroke="#1e1e1e" stroke-width="1.3"/><text x="34.65" y="551.1" font-size="7.5" text-anchor="end" fill="#111111">100</text><line x1="37.85" y1="566" x2="40.85" y2="566" stroke="#1e1e1e" stroke-width="1.3"/><text x="34.65" y="568.7" font-size="7.5" text-anchor="end" fill="#111111">80</text><line x1="40.2" y1="566" x2="170.5" y2="566" stroke="#1e1e1e" stroke-width="1.3"/><line x1="60.8" y1="566" x2="60.8" y2="569.4" stroke="#1e1e1e" stroke-width="1.04"/><text x="60.8" y="579.7" font-size="7.5" text-anchor="middle" fill="#111111">WT</text><line x1="90.6" y1="566" x2="90.6" y2="569.4" stroke="#1e1e1e" stroke-width="1.04"/><text x="90.6" y="579.7" font-size="7.5" text-anchor="middle" fill="#111111">WT+M</text><line x1="120.6" y1="566" x2="120.6" y2="569.4" stroke="#1e1e1e" stroke-width="1.04"/><text x="120.6" y="579.7" font-size="7.5" text-anchor="middle" fill="#111111">KO</text><line x1="151" y1="566" x2="151" y2="569.4" stroke="#1e1e1e" stroke-width="1.04"/><text x="151" y="579.7" font-size="7.5" text-anchor="middle" fill="#111111">KO+M</text><text transform="translate(15.1,526) rotate(-90)" font-size="9" text-anchor="middle" fill="#111111" style="stroke:none" fill-opacity="0.85">%</text><path d="M62.1 483.6V478.1H113.2V483.6" fill="none" stroke="#2a2a2a" stroke-width="1"/><circle cx="84.9" cy="474.6" r="1.05" fill="#2a2a2a"/><circle cx="88.1" cy="474.6" r="1.05" fill="#2a2a2a"/><circle cx="91.3" cy="474.6" r="1.05" fill="#2a2a2a"/><path d="M123.3 483.3V478.2H153.8V483.3" fill="none" stroke="#2a2a2a" stroke-width="1"/><circle cx="138.5" cy="474.6" r="1.05" fill="#2a2a2a"/><circle cx="60.7" cy="540.5" r="1.8" fill="#a8002c"/><circle cx="57.8" cy="545.6" r="1.8" fill="#a8002c"/><circle cx="63.4" cy="549" r="1.8" fill="#a8002c"/><circle cx="60.7" cy="558.7" r="1.8" fill="#a8002c"/><path d="M50.7 548.7H70.7M55.8 541H65.6M55.8 556.3H65.6M60.7 541V556.3" fill="none" stroke="#a8002c" stroke-width="1"/><rect x="86.4" y="533.4" width="3.4" height="3.4" fill="#1c3a78"/><rect x="91.5" y="537.6" width="3.4" height="3.4" fill="#1c3a78"/><rect x="86.4" y="545.9" width="3.4" height="3.4" fill="#1c3a78"/><rect x="91.5" y="545.9" width="3.4" height="3.4" fill="#1c3a78"/><path d="M80.6 542.5H100.6M85.7 536.6H95.5M85.7 548.2H95.5M90.6 536.6V548.2" fill="none" stroke="#1c3a78" stroke-width="1"/><polygon points="118.9,500.85 122.7,500.85 120.8,497.55" fill="#4f9d2a"/><polygon points="118.9,507.35 122.7,507.35 120.8,504.05" fill="#4f9d2a"/><polygon points="118.9,517.55 122.7,517.55 120.8,514.25" fill="#4f9d2a"/><polygon points="118.9,523.95 122.7,523.95 120.8,520.65" fill="#4f9d2a"/><path d="M110.8 510.4H130.8M115.9 500.2H125.7M115.9 520.5H125.7M120.8 500.2V520.5" fill="none" stroke="#68ae45" stroke-width="1"/><polygon points="154.1,517.95 157.9,517.95 156,521.25" fill="#4a1966"/><polygon points="143.5,522.35 147.3,522.35 145.4,525.65" fill="#4a1966"/><polygon points="148.6,523.05 152.4,523.05 150.5,526.35" fill="#4a1966"/><polygon points="148.6,538.05 152.4,538.05 150.5,541.35" fill="#4a1966"/><path d="M140.5 527.8H160.5M145.6 518.9H155.4M145.6 536.3H155.4M150.5 518.9V536.3" fill="none" stroke="#4a1966" stroke-width="1"/></g>
<rect x="0" y="0" width="520" height="1.25" fill="#202020"/>
<rect x="0" y="0" width="1.15" height="589" fill="#050505"/>
<rect x="518.2" y="0" width="1.8" height="589" fill="#0a0a0a"/>
<rect x="0" y="587.2" width="520" height="1.8" fill="#1a1a1a"/>
</svg>
</body></html>
